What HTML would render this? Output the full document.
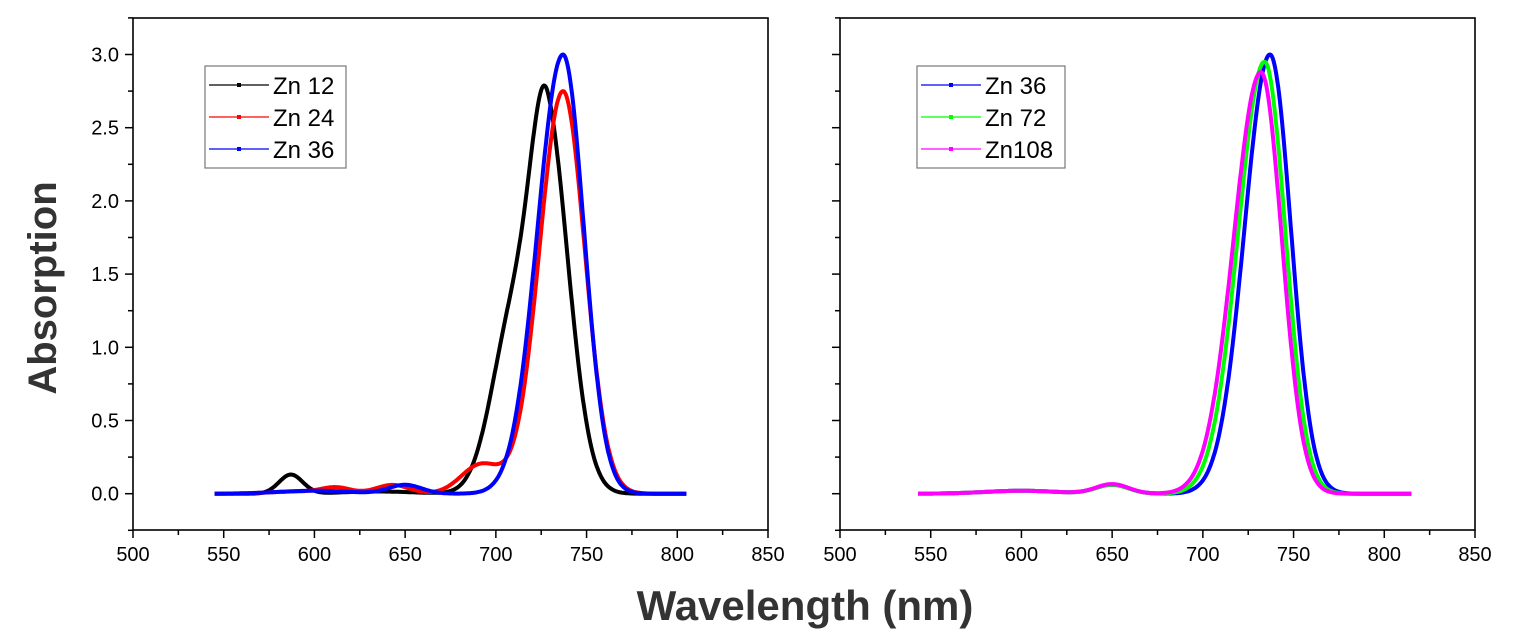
<!DOCTYPE html>
<html><head><meta charset="utf-8"><style>
html,body{margin:0;padding:0;background:#fff;}
svg{display:block;font-family:"Liberation Sans",Arial,sans-serif;}
</style></head><body>
<svg id="s" width="1514" height="644" xmlns="http://www.w3.org/2000/svg"></svg>
<script>
const s=document.getElementById('s');
let h='';
const Y0=493.7,YS=146.4;
function g(x,c,a,sl,sr){const sg=x<c?sl:(sr||sl);return a*Math.exp(-(x-c)*(x-c)/(2*sg*sg));}
function axes(X0,labels){
  const xs=635/350;
  h+=`<rect x="${X0}" y="18" width="635" height="512" fill="none" stroke="#000" stroke-width="1.6"/>`;
  for(let v=500;v<=850;v+=25){const x=X0+(v-500)*xs;const big=v%50==0;
    h+=`<line x1="${x}" y1="530" x2="${x}" y2="${530+(big?8:5)}" stroke="#000" stroke-width="1.5"/>`;
    if(big)h+=`<text x="${x}" y="561" font-size="20" text-anchor="middle">${v}</text>`;}
  for(let i=-1;i<=13;i++){const v=i*0.25;const Y=Y0-v*YS;
    const big=i%2==0;
    h+=`<line x1="${X0}" y1="${Y}" x2="${X0-(big?8:5)}" y2="${Y}" stroke="#000" stroke-width="1.5"/>`;
    if(big&&labels&&i>=0)h+=`<text x="${X0-14}" y="${Y+7}" font-size="20" text-anchor="end">${v.toFixed(1)}</text>`;}
}
function curve(X0,f,a,b,col,w){
  const xs=635/350;let d='';
  for(let x=a;x<=b;x+=0.5){const px=X0+(x-500)*xs,py=Y0-f(x)*YS;d+=(d?'L':'M')+px.toFixed(1)+' '+py.toFixed(1);}
  h+=`<path d="${d}" fill="none" stroke="${col}" stroke-width="${w}" stroke-linejoin="round"/>`;
}
axes(133,true);axes(840,false);
const blk=x=>g(x,728.5,2.38,9,12)+g(x,710,1.2,12)+g(x,587,0.13,6.5)+g(x,635,0.015,20);
const red=x=>g(x,737,2.75,13,12)+g(x,692,0.2,11)+g(x,612,0.04,8)+g(x,643,0.06,9)+g(x,590,0.015,15);
const blu=x=>g(x,737,3.0,14,11.5)+g(x,650,0.06,9)+g(x,600,0.02,20);
const grn=x=>g(x,734,2.95,14.5,11.5)+g(x,650,0.06,9)+g(x,600,0.02,20);
const mag=x=>g(x,732,2.88,15,11.5)+g(x,650,0.065,9)+g(x,600,0.02,20);
curve(133,blk,545,805,'#000',4);
curve(133,red,545,805,'#f00',4);
curve(133,blu,545,805,'#00f',4);
curve(840,blu,543,815,'#00f',4);
curve(840,grn,543,815,'#0f0',4);
curve(840,mag,543,815,'#f0f',4);
function legend(x,names,cols){
  h+=`<rect x="${x}" y="66" width="${names[2]=='Zn108'?148:141}" height="102" fill="#fff" stroke="#777" stroke-width="1.2"/>`;
  names.forEach((n,i)=>{const y=85+i*32;
    h+=`<line x1="${x+4}" y1="${y}" x2="${x+64}" y2="${y}" stroke="${cols[i]}" stroke-width="1.2"/><rect x="${x+32}" y="${y-2}" width="4" height="4" fill="${cols[i]}"/>`;
    h+=`<text x="${x+68}" y="${y+9}" font-size="24">${n}</text>`;});
}
legend(205,['Zn 12','Zn 24','Zn 36'],['#000','#f00','#00f']);
legend(917,['Zn 36','Zn 72','Zn108'],['#00f','#0f0','#f0f']);
h+=`<text transform="translate(56,288) rotate(-90)" font-size="40" font-weight="bold" text-anchor="middle" fill="#333">Absorption</text>`;
h+=`<text x="805" y="620" font-size="42" font-weight="bold" text-anchor="middle" fill="#333">Wavelength (nm)</text>`;
s.innerHTML=h;
</script>
</body></html>
